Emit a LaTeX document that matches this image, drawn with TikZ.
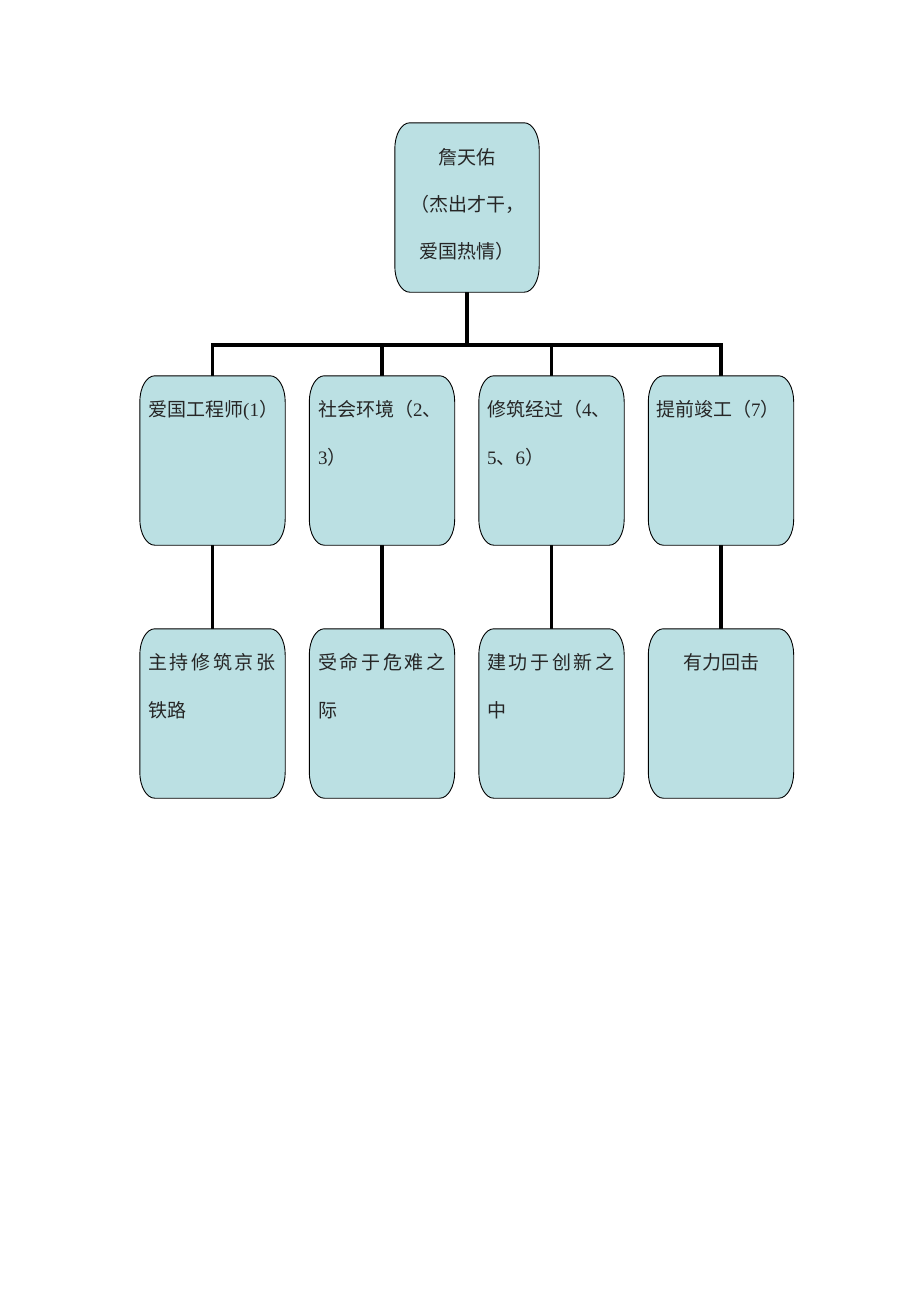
\documentclass[tikz,border=0pt]{standalone}
\usepackage{fontspec}
\setmainfont{Noto Sans CJK SC}
\newfontfamily\latin{Liberation Serif}
\newfontfamily\cjksp{Noto Sans CJK SC}[LetterSpace=14]
\definecolor{boxfill}{RGB}{187,224,227}
\tikzset{
  boxnode/.style={rectangle, draw=none, minimum width=145pt, minimum height=169pt, inner sep=0pt},
  boxline/.style={draw=black, line width=0.9pt, fill=boxfill},
  conn/.style={draw=black, line width=3.6pt, line join=miter},
  txt/.style={inner sep=0pt, font=\fontsize{19}{19}\selectfont, text=black!85},
}
\newcommand\roundbox[1]{%
  \path[boxline] ([xshift=15pt]#1.north west) -- ([xshift=-15pt]#1.north east)
    arc[start angle=90,end angle=0,x radius=15pt,y radius=26pt]
    -- ([yshift=26pt]#1.south east)
    arc[start angle=0,end angle=-90,x radius=15pt,y radius=26pt]
    -- ([xshift=15pt]#1.south west)
    arc[start angle=270,end angle=180,x radius=15pt,y radius=26pt]
    -- ([yshift=-26pt]#1.north west)
    arc[start angle=180,end angle=90,x radius=15pt,y radius=26pt] -- cycle;}
\begin{document}
\begin{tikzpicture}[x=1pt,y=1pt]
\useasboundingbox[fill=white] (0,0) rectangle (920,-1302);
% boxes
\node[boxnode, minimum width=144pt] (top) at (467,-207.5) {};
\node[boxnode] (a1) at (212.5,-460.5) {};
\node[boxnode] (b1) at (382,-460.5) {};
\node[boxnode] (c1) at (551.5,-460.5) {};
\node[boxnode] (d1) at (721,-460.5) {};
\node[boxnode] (a2) at (212.5,-713.5) {};
\node[boxnode] (b2) at (382,-713.5) {};
\node[boxnode] (c2) at (551.5,-713.5) {};
\node[boxnode] (d2) at (721,-713.5) {};
% connectors
\coordinate (hub) at (467,-345);
\draw[conn] (top.south) -- (hub);
\draw[conn] (a1.north) |- (d1.north |- hub) -- (d1.north);
\draw[conn] (b1.north |- hub) -- (b1.north);
\draw[conn] (c1.north |- hub) -- (c1.north);
\draw[conn] (a1.south) -- (a2.north);
\draw[conn] (b1.south) -- (b2.north);
\draw[conn] (c1.south) -- (c2.north);
\draw[conn] (d1.south) -- (d2.north);
% shapes
\roundbox{top}
\roundbox{a1}\roundbox{b1}\roundbox{c1}\roundbox{d1}
\roundbox{a2}\roundbox{b2}\roundbox{c2}\roundbox{d2}
% texts
\node[txt, anchor=base] (t1) at (467,-164) {詹天佑};
\node[txt, anchor=base] (t2) at (467,-211) {（杰出才干，};
\node[txt, anchor=base] (t3) at (467,-258) {爱国热情）};
\node[txt, anchor=base west] (a1t) at (148,-416) {爱国工程师{\latin(1}）};
\node[txt, anchor=base west] (b1t) at (318,-416) {社会环境（{\latin 2}、};
\node[txt, anchor=base west] (b1u) at (318,-464) {{\latin 3}）};
\node[txt, anchor=base west] (c1t) at (487,-416) {修筑经过（{\latin 4}、};
\node[txt, anchor=base west] (c1u) at (487,-464) {{\latin 5}、{\latin 6}）};
\node[txt, anchor=base west] (d1t) at (656,-416) {提前竣工（{\latin 7}）};
\node[txt, anchor=base west] (a2t) at (148,-669) {\cjksp 主持修筑京张};
\node[txt, anchor=base west] (a2u) at (148,-717) {铁路};
\node[txt, anchor=base west] (b2t) at (318,-669) {\cjksp 受命于危难之};
\node[txt, anchor=base west] (b2u) at (318,-717) {际};
\node[txt, anchor=base west] (c2t) at (487,-669) {\cjksp 建功于创新之};
\node[txt, anchor=base west] (c2u) at (487,-717) {中};
\node[txt, anchor=base] (d2t) at (721,-669) {有力回击};
\end{tikzpicture}
\end{document}
